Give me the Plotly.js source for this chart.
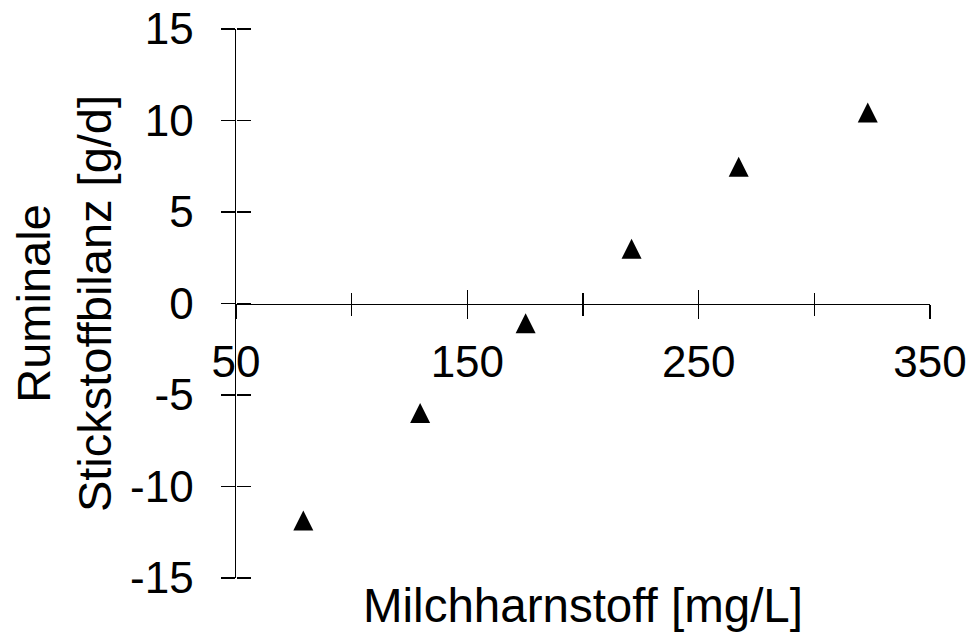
<!DOCTYPE html>
<html><head><meta charset="utf-8">
<script src="https://cdn.plot.ly/plotly-3.0.1.min.js"></script>
<style>html,body{margin:0;padding:0;background:#fff}#chart{width:976px;height:641px}</style>
</head><body><div id="chart"></div>
<script>
// Data
const milchharnstoff = [79.1, 129.6, 175.2, 221.0, 267.3, 323.1];
const stickstoffbilanz = [-11.86, -5.98, -1.08, 2.99, 7.47, 10.44];
const xTickVals = [50, 150, 250, 350];
const xTickText = ['50', '150', '250', '350'];
const yTickVals = [-15, -10, -5, 0, 5, 10, 15];
const yTickText = ['-15', '-10', '-5', '0', '5', '10', '15'];
const xTitle = 'Milchharnstoff [mg/L]';
const yTitle = 'Ruminale<br>Stickstoffbilanz [g/d]';

const FONT = 'Liberation Sans, Arial, Helvetica, sans-serif';
const X_RANGE = [50, 350];
const Y_RANGE = [-15, 15];

const trace = {
  type: 'scatter', mode: 'markers',
  x: milchharnstoff, y: stickstoffbilanz,
  xaxis: 'x', yaxis: 'y',
  // arrow-down rotated 180deg with standoff = r gives an upward triangle centred on the point
  marker: {symbol: 'arrow-down', angle: 180, size: 20, standoff: 10, color: '#000', line: {width: 0}},
  showlegend: false, hoverinfo: 'x+y'
};

const layout = {
  width: 976, height: 641,
  margin: {l: 236, r: 46, t: 29, b: 63},
  paper_bgcolor: '#fff', plot_bgcolor: '#fff',
  font: {family: FONT, color: '#000', size: 44},
  showlegend: false,
  xaxis: {
    range: X_RANGE, anchor: 'free', position: 0.5,
    showline: true, linecolor: '#000', linewidth: 1.5,
    showgrid: false, zeroline: false,
    tickmode: 'array', tickvals: xTickVals, ticktext: xTickText,
    ticks: 'outside', ticklen: 14, tickwidth: 1.5, tickcolor: '#000',
    minor: {tickmode: 'linear', tick0: 50, dtick: 50, ticks: 'outside', ticklen: 11, tickwidth: 1.5, tickcolor: '#000', showgrid: false},
    tickfont: {family: FONT, size: 44, color: '#000'},
    ticklabelstandoff: 5
  },
  xaxis2: {
    range: X_RANGE, overlaying: 'x', anchor: 'free', position: 0.5,
    showline: false, showgrid: false, zeroline: false, showticklabels: false,
    tickmode: 'array', tickvals: xTickVals,
    ticks: 'inside', ticklen: 14, tickwidth: 1.5, tickcolor: '#000',
    minor: {tickmode: 'linear', tick0: 50, dtick: 50, ticks: 'inside', ticklen: 11, tickwidth: 1.5, tickcolor: '#000', showgrid: false}
  },
  xaxis3: {
    range: X_RANGE, overlaying: 'x', anchor: 'y', side: 'bottom',
    showline: false, showgrid: false, zeroline: false, showticklabels: false, ticks: '',
    title: {text: xTitle, font: {family: FONT, size: 47.5, color: '#000'}, standoff: 10}
  },
  yaxis: {
    range: Y_RANGE, anchor: 'x',
    showline: true, linecolor: '#000', linewidth: 1.5,
    showgrid: false, zeroline: false,
    tickmode: 'array', tickvals: yTickVals, ticktext: yTickText,
    ticks: 'outside', ticklen: 14, tickwidth: 1.5, tickcolor: '#000',
    tickfont: {family: FONT, size: 44, color: '#000'},
    ticklabelstandoff: 18,
    title: {text: yTitle, font: {family: FONT, size: 47, color: '#000'}, standoff: 3}
  },
  yaxis2: {
    range: Y_RANGE, overlaying: 'y', anchor: 'free', position: 0, side: 'right',
    showline: false, showgrid: false, zeroline: false, showticklabels: false,
    tickmode: 'array', tickvals: yTickVals,
    ticks: 'outside', ticklen: 14, tickwidth: 1.5, tickcolor: '#000'
  }
};

// empty helper traces so the overlay axes are drawn
const helper2 = {type: 'scatter', mode: 'markers', x: [], y: [], xaxis: 'x2', yaxis: 'y2', showlegend: false, hoverinfo: 'skip'};
const helper3 = {type: 'scatter', mode: 'markers', x: [], y: [], xaxis: 'x3', yaxis: 'y', showlegend: false, hoverinfo: 'skip'};

Plotly.newPlot('chart', [trace, helper2, helper3], layout, {displayModeBar: false, staticPlot: true});
</script>
</body></html>
